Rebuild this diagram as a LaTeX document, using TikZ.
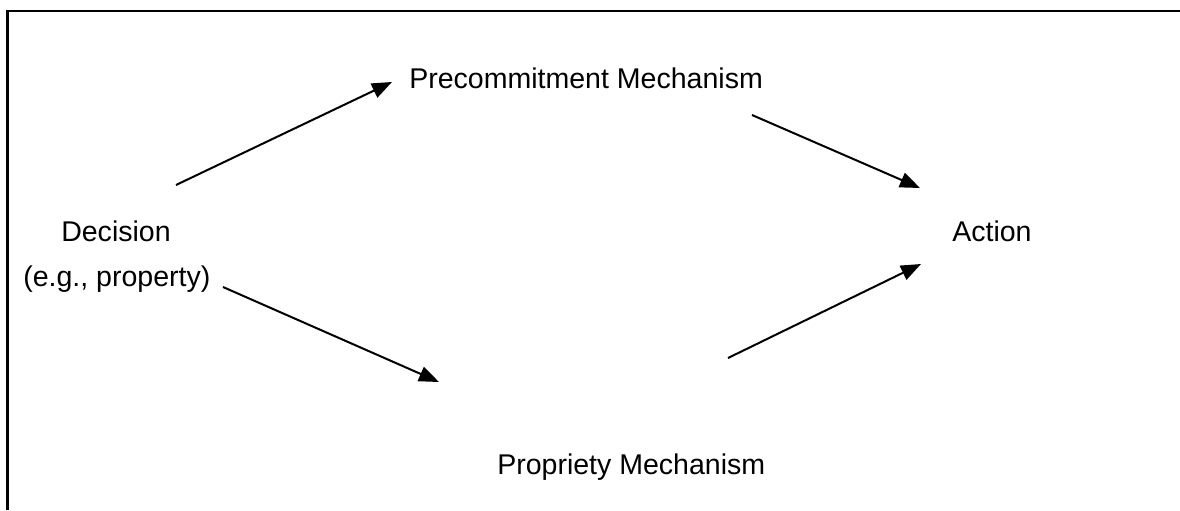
\documentclass[tikz,border=0pt]{standalone}
\usepackage{fontspec}
\setmainfont{Liberation Sans}
\usetikzlibrary{arrows.meta}
\begin{document}
\begin{tikzpicture}[x=0.75pt,y=-0.75pt,
  lbl/.style={inner sep=0pt,font=\fontsize{21.4}{26}\selectfont},
  conn/.style={line width=1.5pt,-{Triangle[length=15pt,width=11.5pt]}},
  frame/.style={line width=1.6pt}]
\useasboundingbox (0,0) rectangle (1180,510);
\draw[frame] (7.5,510) -- (7.5,11) -- (1180,11);
% labels
\node[lbl,anchor=base west] (pre) at (409,89) {Precommitment Mechanism};
\node[lbl,anchor=base west] (dec) at (61,241) {Decision};
\node[lbl,anchor=base west] (eg) at (23,286) {(e.g., property)};
\node[lbl,anchor=base west] (act) at (952,241) {Action};
\node[lbl,anchor=base west] (pro) at (497,474) {Propriety Mechanism};
% connector end points
\coordinate (a1s) at (176,185);
\coordinate (a1e) at (392,82);
\coordinate (a2s) at (752,115);
\coordinate (a2e) at (920,188);
\coordinate (a3s) at (223,287);
\coordinate (a3e) at (439,382);
\coordinate (a4s) at (728,358);
\coordinate (a4e) at (921,264);
\draw[conn] (a1s) -- (a1e);
\draw[conn] (a2s) -- (a2e);
\draw[conn] (a3s) -- (a3e);
\draw[conn] (a4s) -- (a4e);
\end{tikzpicture}
\end{document}
